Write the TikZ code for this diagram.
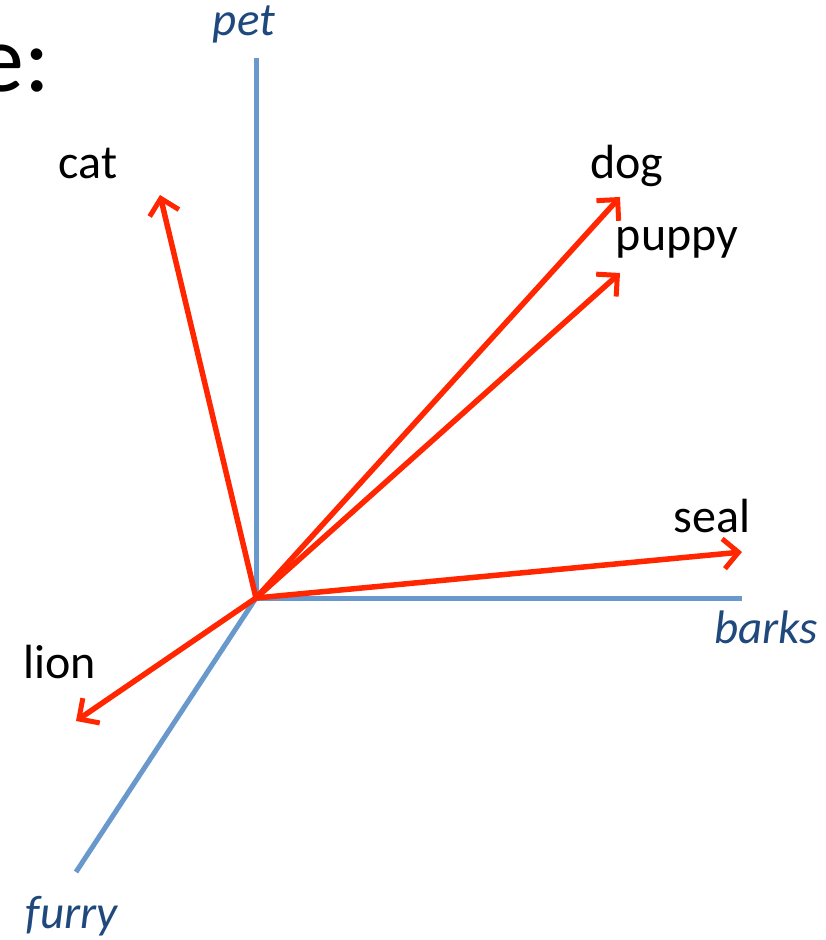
\documentclass[tikz,border=0pt]{standalone}
\usepackage{fontspec}
\setmainfont{Carlito}
\usetikzlibrary{arrows.meta}
\definecolor{axisblue}{RGB}{104,152,204}
\definecolor{labelblue}{RGB}{31,73,125}
\definecolor{vecred}{RGB}{255,38,0}
\begin{document}
\begin{tikzpicture}[x=1pt,y=-1pt,
  axis/.style={draw=axisblue,line width=5pt},
  vec/.style={draw=vecred,line width=5.5pt,-{Straight Barb[length=15pt,width=30pt,line width=5pt]}},
  axlabel/.style={font=\fontsize{47}{55}\selectfont\itshape,text=labelblue,inner sep=0pt},
  word/.style={font=\fontsize{48}{56}\selectfont,text=black,inner sep=0pt}]
\useasboundingbox (0,0) rectangle (825,940);
\coordinate (O) at (256,598);
\coordinate (petend) at (256,58);
\coordinate (barksend) at (742,598);
\coordinate (furryend) at (76,872);
\draw[axis] (O) -- (petend);
\draw[axis] (O) -- (barksend);
\draw[axis] (O) -- (furryend);
\node[axlabel] (pet) at (244,24) {pet};
\node[axlabel] (barks) at (766,627) {barks};
\node[axlabel] (furry) at (72,916) {furry};
\coordinate (cattip) at (160,195);
\coordinate (dogtip) at (620,197);
\coordinate (puppytip) at (620,273);
\coordinate (sealtip) at (742,552);
\coordinate (liontip) at (76,721);
\draw[vec] (O) -- (cattip);
\draw[vec] (O) -- (dogtip);
\draw[vec] (O) -- (puppytip);
\draw[vec] (O) -- (sealtip);
\draw[vec] (O) -- (liontip);
\node[word] (cat) at (88,163) {cat};
\node[word] (dog) at (627,166) {dog};
\node[word] (puppy) at (677,243) {puppy};
\node[word] (seal) at (712,516) {seal};
\node[word] (lion) at (60,662) {lion};
\node[font=\fontsize{96}{104}\selectfont,inner sep=0pt,anchor=base east] (title) at (50,91) {e:};
\end{tikzpicture}
\end{document}
